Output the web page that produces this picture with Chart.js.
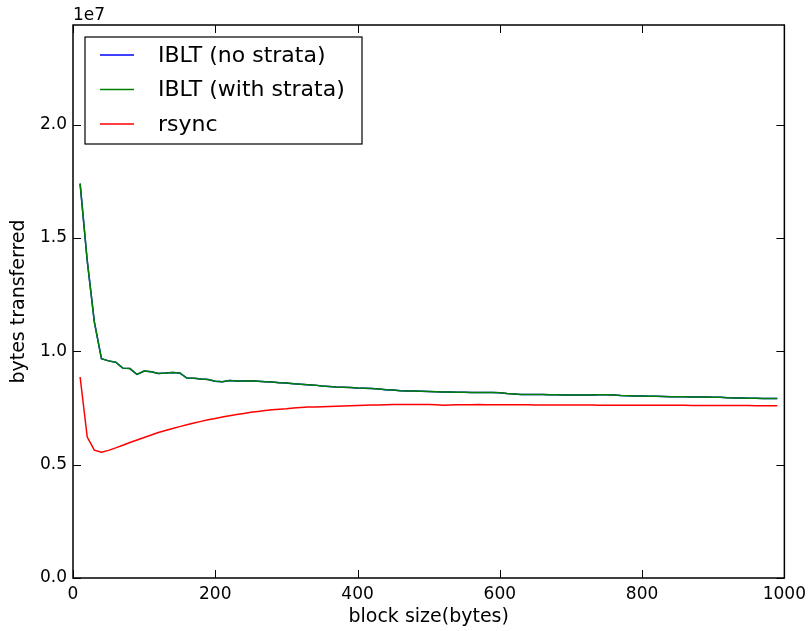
<!DOCTYPE html>
<html>
<head>
<meta charset="utf-8">
<script src="https://cdn.jsdelivr.net/npm/chart.js@4.4.0/dist/chart.umd.min.js"></script>
<style>
  html, body { margin: 0; padding: 0; background: #fff; }
  #wrap { width: 812px; height: 631px; }
</style>
</head>
<body>
<div id="wrap"><canvas id="chart" width="812" height="631"></canvas></div>
<script>
// block size (bytes)
const blockSizes = [];
for (let b = 10; b <= 990; b += 10) blockSizes.push(b);

// bytes transferred, in units of 1e6
const ibltNoStrata = [
  17.4, 14.0, 11.3, 9.68, 9.58, 9.52, 9.26, 9.24, 8.98, 9.13,
  9.10, 9.02, 9.04, 9.07, 9.05, 8.82, 8.81, 8.78, 8.76, 8.68,
  8.66, 8.71, 8.69, 8.69, 8.70, 8.68, 8.66, 8.65, 8.62, 8.60,
  8.57, 8.55, 8.53, 8.51, 8.47, 8.45, 8.43, 8.42, 8.40, 8.38,
  8.37, 8.36, 8.34, 8.31, 8.29, 8.26, 8.25, 8.25, 8.24, 8.23,
  8.22, 8.21, 8.21, 8.20, 8.20, 8.19, 8.19, 8.18, 8.18, 8.17,
  8.14, 8.12, 8.10, 8.10, 8.10, 8.10, 8.09, 8.09, 8.08, 8.07,
  8.07, 8.07, 8.08, 8.09, 8.09, 8.07, 8.05, 8.04, 8.03, 8.03,
  8.02, 8.02, 8.01, 8.00, 8.00, 8.00, 7.99, 7.99, 7.99, 7.98,
  7.97, 7.95, 7.94, 7.94, 7.93, 7.93, 7.92, 7.92, 7.92
];
const ibltWithStrata = [
  17.4, 14.0, 11.3, 9.68, 9.58, 9.52, 9.26, 9.24, 8.98, 9.13,
  9.10, 9.02, 9.04, 9.07, 9.05, 8.82, 8.81, 8.78, 8.76, 8.68,
  8.66, 8.71, 8.69, 8.69, 8.70, 8.68, 8.66, 8.65, 8.62, 8.60,
  8.57, 8.55, 8.53, 8.51, 8.47, 8.45, 8.43, 8.42, 8.40, 8.38,
  8.37, 8.36, 8.34, 8.31, 8.29, 8.26, 8.25, 8.25, 8.24, 8.23,
  8.22, 8.21, 8.21, 8.20, 8.20, 8.19, 8.19, 8.18, 8.18, 8.17,
  8.14, 8.12, 8.10, 8.10, 8.10, 8.10, 8.09, 8.09, 8.08, 8.07,
  8.07, 8.07, 8.08, 8.09, 8.09, 8.07, 8.05, 8.04, 8.03, 8.03,
  8.02, 8.02, 8.01, 8.00, 8.00, 8.00, 7.99, 7.99, 7.99, 7.98,
  7.97, 7.95, 7.94, 7.94, 7.93, 7.93, 7.92, 7.92, 7.92
];
const rsync = [
  8.87, 6.22, 5.64, 5.55, 5.63, 5.74, 5.86, 5.98, 6.09, 6.20,
  6.31, 6.42, 6.51, 6.60, 6.68, 6.76, 6.84, 6.91, 6.98, 7.04,
  7.10, 7.16, 7.21, 7.26, 7.31, 7.35, 7.39, 7.42, 7.45, 7.47,
  7.50, 7.52, 7.54, 7.55, 7.56, 7.57, 7.58, 7.59, 7.60, 7.61,
  7.62, 7.63, 7.63, 7.64, 7.65, 7.65, 7.66, 7.66, 7.66, 7.66,
  7.64, 7.62, 7.63, 7.64, 7.64, 7.64, 7.65, 7.64, 7.64, 7.64,
  7.64, 7.64, 7.64, 7.64, 7.63, 7.63, 7.63, 7.63, 7.63, 7.63,
  7.63, 7.63, 7.63, 7.62, 7.62, 7.62, 7.62, 7.62, 7.62, 7.62,
  7.62, 7.62, 7.62, 7.62, 7.62, 7.62, 7.61, 7.61, 7.61, 7.61,
  7.61, 7.61, 7.61, 7.61, 7.61, 7.60, 7.60, 7.60, 7.60
];

const seriesLabels = ['IBLT (no strata)', 'IBLT (with strata)', 'rsync'];
const seriesColors = ['#0000ff', '#008000', '#ff0000'];
const xTicks = [0, 200, 400, 600, 800, 1000];
const yTicks = [0, 0.5e7, 1.0e7, 1.5e7, 2.0e7];

const font = 'DejaVu Sans';

function points(values) {
  return blockSizes.map((b, i) => ({ x: b, y: values[i] * 1e6 }));
}

// 边框、向内刻度、1e7 和图例
const framePlugin = {
  id: 'frame',
  afterDraw(chart) {
    const ctx = chart.ctx;
    const a = chart.chartArea;
    const xs = chart.scales.x;
    const ys = chart.scales.y;
    ctx.save();
    ctx.strokeStyle = '#000';
    ctx.lineWidth = 1;
    const len = 8;
    ctx.beginPath();
    xs.ticks.forEach(t => {
      const px = Math.round(xs.getPixelForValue(t.value)) + 0.5;
      ctx.moveTo(px, a.bottom); ctx.lineTo(px, a.bottom - len);
      ctx.moveTo(px, a.top); ctx.lineTo(px, a.top + len);
    });
    ys.ticks.forEach(t => {
      const py = Math.round(ys.getPixelForValue(t.value)) + 0.5;
      ctx.moveTo(a.left, py); ctx.lineTo(a.left + len, py);
      ctx.moveTo(a.right, py); ctx.lineTo(a.right - len, py);
    });
    ctx.stroke();

    ctx.lineWidth = 1.5;
    ctx.strokeRect(a.left, a.top, a.right - a.left, a.bottom - a.top);

    ctx.fillStyle = '#000';
    ctx.font = '17px "' + font + '"';
    ctx.textAlign = 'left';
    ctx.textBaseline = 'alphabetic';
    ctx.fillText('1e7', a.left, a.top - 5);

    // 图例
    const lx = a.left + 12, ly = a.top + 12, lw = 277, lh = 107;
    ctx.fillStyle = '#fff';
    ctx.fillRect(lx, ly, lw, lh);
    ctx.lineWidth = 1.2;
    ctx.strokeStyle = '#000';
    ctx.strokeRect(lx, ly, lw, lh);
    ctx.font = '22px "' + font + '"';
    ctx.textBaseline = 'middle';
    chart.data.datasets.forEach((ds, i) => {
      const ry = ly + 18 + i * 34.5;
      ctx.strokeStyle = ds.borderColor;
      ctx.lineWidth = 1.5;
      ctx.beginPath();
      ctx.moveTo(lx + 15, ry);
      ctx.lineTo(lx + 49, ry);
      ctx.stroke();
      ctx.fillStyle = '#000';
      ctx.fillText(ds.label, lx + 73, ry + 1);
    });
    ctx.restore();
  }
};

new Chart(document.getElementById('chart'), {
  type: 'line',
  data: {
    datasets: [
      { label: seriesLabels[0], data: points(ibltNoStrata), borderColor: seriesColors[0], order: 2 },
      { label: seriesLabels[1], data: points(ibltWithStrata), borderColor: seriesColors[1], order: 1 },
      { label: seriesLabels[2], data: points(rsync), borderColor: seriesColors[2], order: 0 }
    ]
  },
  options: {
    responsive: false,
    animation: false,
    devicePixelRatio: 1,
    layout: { padding: { top: 25, right: 25, left: 0, bottom: 0 } },
    elements: {
      point: { radius: 0 },
      line: { borderWidth: 1.5, tension: 0, fill: false }
    },
    plugins: {
      legend: { display: false },
      tooltip: { enabled: false }
    },
    scales: {
      x: {
        type: 'linear',
        min: 0,
        max: 1000,
        grid: { display: false, drawTicks: false },
        border: { display: false },
        afterBuildTicks(s) { s.ticks = xTicks.map(v => ({ value: v })); },
        ticks: {
          color: '#000',
          padding: 6,
          maxRotation: 0,
          autoSkip: false,
          font: { family: font, size: 17 },
          callback: v => String(v)
        },
        title: {
          display: true,
          text: 'block size(bytes)',
          color: '#000',
          padding: { top: 0, bottom: 3 },
          font: { family: font, size: 19 }
        },
        afterFit(s) { s.height = 53; }
      },
      y: {
        min: 0,
        max: 24.4e6,
        grid: { display: false, drawTicks: false },
        border: { display: false },
        afterBuildTicks(s) { s.ticks = yTicks.map(v => ({ value: v })); },
        ticks: {
          color: '#000',
          padding: 6,
          autoSkip: false,
          font: { family: font, size: 17 },
          callback: v => (v / 1e7).toFixed(1)
        },
        title: {
          display: true,
          text: 'bytes transferred',
          color: '#000',
          padding: { top: 8, bottom: 6 },
          font: { family: font, size: 19 }
        },
        afterFit(s) { s.width = 73; }
      }
    }
  },
  plugins: [framePlugin]
});
</script>
</body>
</html>
